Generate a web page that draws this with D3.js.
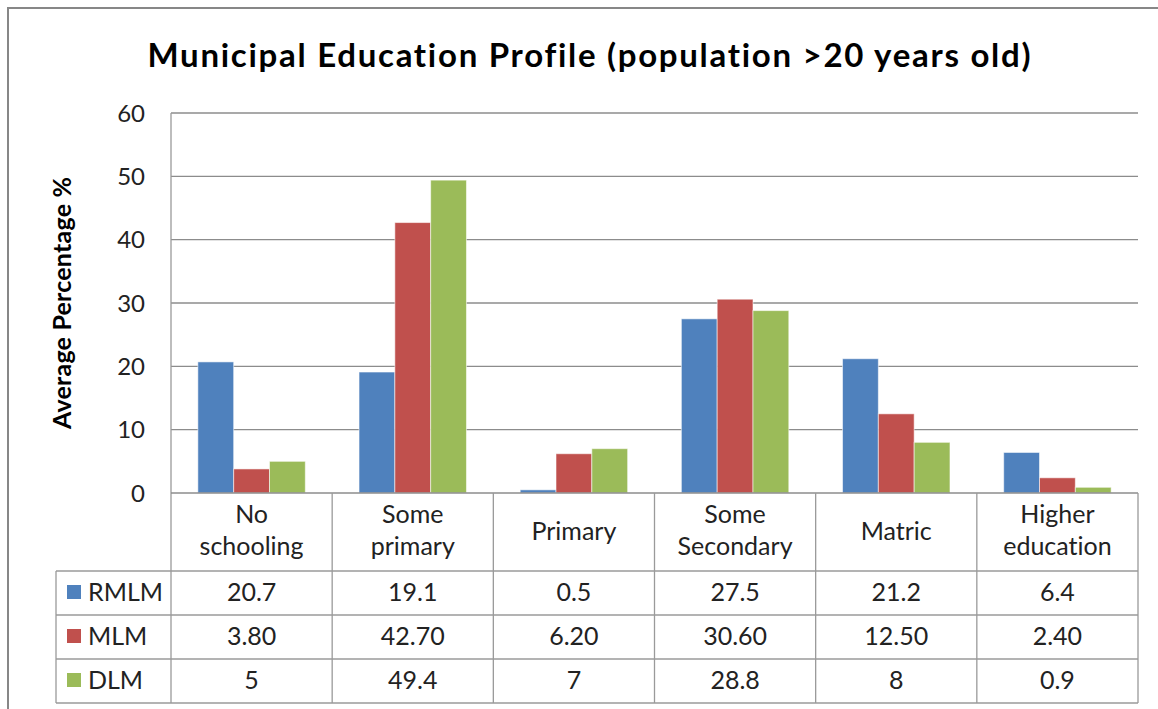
<!DOCTYPE html>
<html>
<head>
<meta charset="utf-8">
<script src="https://cdn.jsdelivr.net/npm/d3@7"></script>
<style>
  body { margin: 0; background: #fff; }
  svg { display: block; font-family: Lato, "Open Sans", sans-serif; font-variant-ligatures: none; }
</style>
</head>
<body>
<svg width="1158" height="709"></svg>
<script>
var categories = ['No schooling', 'Some primary', 'Primary', 'Some Secondary', 'Matric', 'Higher education'];
var seriesNames = ['RMLM', 'MLM', 'DLM'];
var rmlm = [20.7, 19.1, 0.5, 27.5, 21.2, 6.4];
var mlm = [3.8, 42.7, 6.2, 30.6, 12.5, 2.4];
var dlm = [5, 49.4, 7, 28.8, 8, 0.9];
var colors = ['#4f81bd', '#c0504d', '#9bbb59'];
var yTicks = [0, 10, 20, 30, 40, 50, 60];

var seriesValues = [rmlm, mlm, dlm];
// how the data table prints each row
var formats = [d => String(d), d => d.toFixed(2), d => String(d)];

var svg = d3.select('svg');
var width = 1158, height = 709;

var plot = {left: 171, right: 1138, top: 113, bottom: 493};
var rowH = 44;
var catRowBottom = 571;
var tableLeft = 56;
var fontSize = 25;

// outer chart border
svg.append('rect')
  .attr('x', 8).attr('y', 8)
  .attr('width', width + 20).attr('height', height + 20)
  .attr('fill', '#fff')
  .attr('stroke', '#878787')
  .attr('stroke-width', 2);

svg.append('text')
  .attr('x', 589).attr('y', 67)
  .attr('text-anchor', 'middle')
  .attr('font-size', 33)
  .attr('font-weight', 'bold')
  .attr('textLength', 883)
  .attr('lengthAdjust', 'spacing')
  .attr('fill', '#000')
  .text('Municipal Education Profile (population >20 years old)');

var x0 = d3.scaleBand()
  .domain(categories)
  .range([plot.left, plot.right]);

var x1 = d3.scaleBand()
  .domain(seriesNames)
  .range([0, x0.bandwidth()])
  .paddingInner(0)
  .paddingOuter(0.75);

var y = d3.scaleLinear()
  .domain([0, 60])
  .range([plot.bottom, plot.top]);

// gridlines
svg.append('g')
  .selectAll('line')
  .data(yTicks.filter(d => d > 0))
  .enter()
  .append('line')
  .attr('x1', plot.left).attr('x2', plot.right)
  .attr('y1', d => y(d)).attr('y2', d => y(d))
  .attr('stroke', '#8c8c8c')
  .attr('stroke-width', 1.3);

// y tick labels
svg.append('g')
  .selectAll('text')
  .data(yTicks)
  .enter()
  .append('text')
  .attr('x', 145)
  .attr('y', d => y(d))
  .attr('dy', '0.36em')
  .attr('text-anchor', 'end')
  .attr('font-size', 24)
  .attr('fill', '#222')
  .text(d => d);

svg.append('text')
  .attr('transform', 'translate(71,' + (plot.top + plot.bottom) / 2 + ') rotate(-90)')
  .attr('text-anchor', 'middle')
  .attr('font-size', 25)
  .attr('font-weight', 'bold')
  .attr('textLength', 252)
  .attr('lengthAdjust', 'spacing')
  .attr('fill', '#000')
  .text('Average Percentage %');

// bars
var groups = svg.append('g')
  .selectAll('g')
  .data(categories)
  .enter()
  .append('g')
  .attr('transform', d => 'translate(' + x0(d) + ',0)');

groups.selectAll('rect')
  .data((c, i) => seriesNames.map((s, j) => ({series: s, value: seriesValues[j][i], color: colors[j]})))
  .enter()
  .append('rect')
  .attr('x', d => x1(d.series))
  .attr('width', x1.bandwidth())
  .attr('y', d => y(d.value))
  .attr('height', d => y(0) - y(d.value))
  .attr('fill', d => d.color)
  .attr('stroke', 'rgba(255,255,255,0.55)')
  .attr('stroke-width', 1);

// data table lines
var tableBottom = catRowBottom + rowH * 3;
var grid = svg.append('g')
  .attr('stroke', '#9a9a9a')
  .attr('stroke-width', 1.3);

grid.append('line')
  .attr('x1', plot.left).attr('x2', plot.left)
  .attr('y1', plot.top).attr('y2', tableBottom);

grid.append('line')
  .attr('x1', plot.left).attr('x2', plot.right)
  .attr('y1', plot.bottom).attr('y2', plot.bottom)
  .attr('stroke', '#8c8c8c');

grid.selectAll('.vline')
  .data(categories)
  .enter()
  .append('line')
  .attr('x1', d => x0(d) + x0.bandwidth()).attr('x2', d => x0(d) + x0.bandwidth())
  .attr('y1', plot.bottom).attr('y2', tableBottom);

grid.append('line')
  .attr('x1', tableLeft).attr('x2', tableLeft)
  .attr('y1', catRowBottom).attr('y2', tableBottom);

grid.selectAll('.hline')
  .data(d3.range(4))
  .enter()
  .append('line')
  .attr('x1', tableLeft).attr('x2', plot.right)
  .attr('y1', d => catRowBottom + d * rowH).attr('y2', d => catRowBottom + d * rowH);

// category labels
svg.append('g')
  .selectAll('text')
  .data(categories)
  .enter()
  .append('text')
  .attr('x', d => x0(d) + x0.bandwidth() / 2)
  .attr('text-anchor', 'middle')
  .attr('font-size', fontSize)
  .attr('fill', '#222')
  .each(function(d) {
    var words = d.split(' ');
    var t = d3.select(this);
    var cx = x0(d) + x0.bandwidth() / 2;
    if (words.length === 1) {
      t.attr('y', 540).text(d);
    } else {
      t.append('tspan').attr('x', cx).attr('y', 523).text(words[0]);
      t.append('tspan').attr('x', cx).attr('y', 555).text(words.slice(1).join(' '));
    }
  });

// table rows
var rows = svg.append('g')
  .selectAll('g')
  .data(seriesNames)
  .enter()
  .append('g')
  .attr('transform', (d, i) => 'translate(0,' + (catRowBottom + i * rowH) + ')');

rows.append('rect')
  .attr('x', 67).attr('y', 14)
  .attr('width', 14).attr('height', 14)
  .attr('fill', (d, i) => colors[i]);

rows.append('text')
  .attr('x', 88).attr('y', 30)
  .attr('font-size', fontSize)
  .attr('fill', '#222')
  .text(d => d);

rows.selectAll('.val')
  .data((s, j) => seriesValues[j].map((v, i) => ({cat: categories[i], label: formats[j](v)})))
  .enter()
  .append('text')
  .attr('x', d => x0(d.cat) + x0.bandwidth() / 2)
  .attr('y', 30)
  .attr('text-anchor', 'middle')
  .attr('font-size', fontSize)
  .attr('fill', '#222')
  .text(d => d.label);
</script>
</body>
</html>
